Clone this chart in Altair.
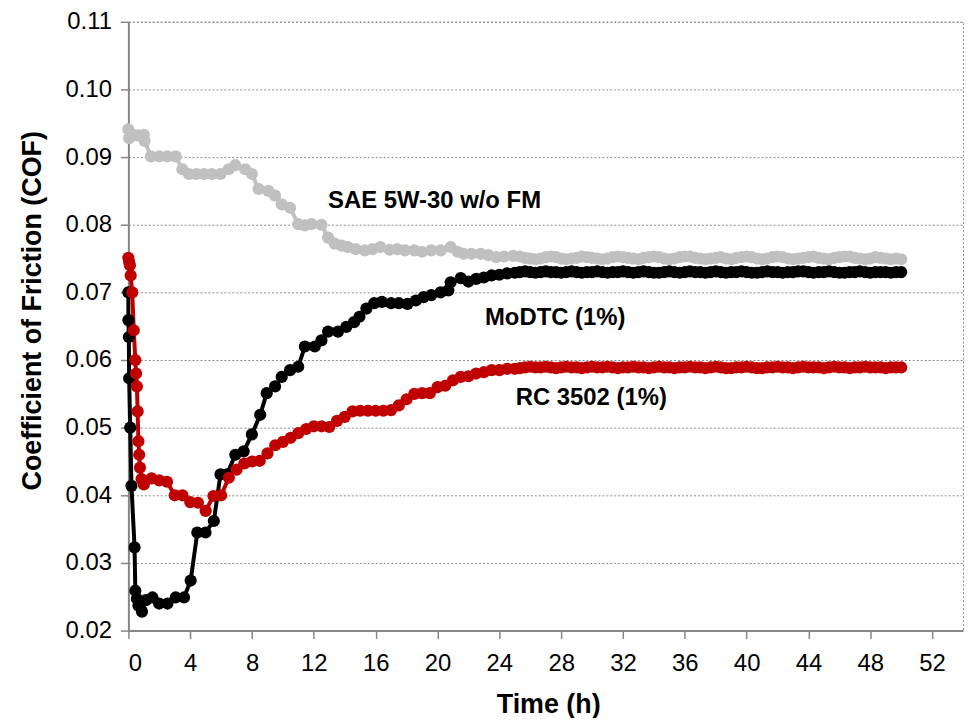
import altair as alt
import pandas as pd

series_names = ["SAE 5W-30 w/o FM", "MoDTC (1%)", "RC 3502 (1%)"]
series_colors = ["#C0C0C0", "#000000", "#C00000"]

tail_t = [25.33, 25.67, 26.0, 26.33, 26.67, 27.0, 27.33, 27.67, 28.0, 28.33, 28.67, 29.0, 29.33, 29.67, 30.0,
          30.33, 30.67, 31.0, 31.33, 31.67, 32.0, 32.33, 32.67, 33.0, 33.33, 33.67, 34.0, 34.33, 34.67, 35.0,
          35.33, 35.67, 36.0, 36.33, 36.67, 37.0, 37.33, 37.67, 38.0, 38.33, 38.67, 39.0, 39.33, 39.67, 40.0,
          40.33, 40.67, 41.0, 41.33, 41.67, 42.0, 42.33, 42.67, 43.0, 43.33, 43.67, 44.0, 44.33, 44.67, 45.0,
          45.33, 45.67, 46.0, 46.33, 46.67, 47.0, 47.33, 47.67, 48.0, 48.33, 48.67, 49.0, 49.33, 49.67, 50.0]

sae_t = [0.0, 0.05, 0.3, 0.6, 1.0, 1.05, 1.46, 2.0, 2.53, 3.06, 3.49, 3.92, 4.4, 4.9, 5.4,
         5.96, 6.49, 6.92, 7.56, 7.99, 8.42, 9.06, 9.49, 9.92, 10.46, 10.99, 11.42, 11.85,
         12.49, 12.92, 13.35, 13.8, 14.2, 14.7, 15.3, 15.8, 16.3, 16.9, 17.4, 17.9, 18.5,
         19.0, 19.6, 20.2, 20.85, 21.3, 21.7, 22.2, 22.8, 23.3, 23.8, 24.3, 24.9] + tail_t
sae_cof = [0.0941, 0.0928, 0.0933, 0.0932, 0.0933, 0.0924, 0.0901, 0.0901, 0.0901, 0.0901,
           0.0882, 0.0875, 0.0875, 0.0875, 0.0875, 0.0875, 0.0882, 0.0888, 0.0882, 0.0875,
           0.0853, 0.0850, 0.0843, 0.0830, 0.0825, 0.0801, 0.0799, 0.0801, 0.0800, 0.0781,
           0.0772, 0.0769, 0.0767, 0.0764, 0.0762, 0.0764, 0.0767, 0.0763, 0.0764, 0.0762,
           0.0762, 0.0760, 0.0762, 0.0762, 0.0767, 0.0760, 0.0757, 0.0757, 0.0757, 0.0755,
           0.0752, 0.0753, 0.0754,
           0.0753, 0.0751, 0.0750, 0.0749, 0.0750, 0.0752, 0.0753, 0.0752, 0.0750, 0.0749, 0.0750, 0.0751, 0.0753, 0.0752, 0.0751,
           0.0750, 0.0749, 0.0750, 0.0752, 0.0753, 0.0752, 0.0751, 0.0750, 0.0749, 0.0751, 0.0752, 0.0753, 0.0752, 0.0750, 0.0749,
           0.0750, 0.0752, 0.0753, 0.0753, 0.0751, 0.0750, 0.0749, 0.0750, 0.0751, 0.0752, 0.0750, 0.0749, 0.0751, 0.0752, 0.0753,
           0.0752, 0.0750, 0.0749, 0.0750, 0.0752, 0.0753, 0.0752, 0.0750, 0.0749, 0.0750, 0.0751, 0.0752, 0.0753, 0.0751, 0.0750,
           0.0749, 0.0751, 0.0752, 0.0753, 0.0753, 0.0751, 0.0750, 0.0749, 0.0750, 0.0752, 0.0751, 0.0750, 0.0749, 0.0750, 0.0749]

modtc_t = [0.0, 0.0, 0.03, 0.05, 0.12, 0.2, 0.4, 0.45, 0.55, 0.65, 0.88, 1.14, 1.56, 1.99,
           2.53, 3.06, 3.6, 4.03, 4.46, 4.99, 5.53, 5.96, 6.38, 6.92, 7.46, 7.99, 8.53, 8.95,
           9.49, 9.92, 10.46, 10.99, 11.42, 12.06, 12.49, 12.92, 13.56, 14.1, 14.6, 14.95,
           15.4, 15.9, 16.4, 17.0, 17.5, 18.06, 18.6, 19.1, 19.6, 20.2, 20.7, 20.85, 21.5,
           22.0, 22.5, 23.0, 23.5, 24.0, 24.5, 25.0] + tail_t
modtc_cof = [0.0700, 0.0659, 0.0634, 0.0573, 0.0500, 0.0414, 0.0323, 0.0259, 0.0247, 0.0237,
             0.0228, 0.0245, 0.0249, 0.0240, 0.0240, 0.0249, 0.0249, 0.0274, 0.0345, 0.0345,
             0.0362, 0.0431, 0.0431, 0.0460, 0.0465, 0.0490, 0.0519, 0.0551, 0.0561, 0.0575,
             0.0585, 0.0590, 0.0620, 0.0620, 0.0629, 0.0642, 0.0642, 0.0649, 0.0656, 0.0664,
             0.0676, 0.0684, 0.0686, 0.0684, 0.0684, 0.0683, 0.0688, 0.0693, 0.0696, 0.0700,
             0.0703, 0.0715, 0.0721, 0.0716, 0.0720, 0.0722, 0.0725, 0.0726, 0.0728, 0.0729,
             0.0730, 0.0731, 0.0730, 0.0729, 0.0730, 0.0731, 0.0730, 0.0730, 0.0729, 0.0730, 0.0731, 0.0730, 0.0729, 0.0730, 0.0730,
             0.0731, 0.0730, 0.0729, 0.0730, 0.0730, 0.0731, 0.0730, 0.0729, 0.0730, 0.0731, 0.0730, 0.0729, 0.0729, 0.0730, 0.0731,
             0.0730, 0.0729, 0.0730, 0.0731, 0.0730, 0.0730, 0.0729, 0.0730, 0.0731, 0.0730, 0.0729, 0.0730, 0.0730, 0.0731, 0.0730,
             0.0729, 0.0729, 0.0730, 0.0731, 0.0730, 0.0730, 0.0729, 0.0730, 0.0730, 0.0731, 0.0731, 0.0730, 0.0729, 0.0730, 0.0730,
             0.0731, 0.0730, 0.0729, 0.0729, 0.0730, 0.0730, 0.0731, 0.0730, 0.0729, 0.0730, 0.0730, 0.0730, 0.0729, 0.0730, 0.0730]

rc_t = [0.0, 0.05, 0.1, 0.15, 0.25, 0.35, 0.45, 0.5, 0.55, 0.6, 0.65, 0.7, 0.75, 0.85, 1.0,
        1.5, 2.0, 2.5, 3.0, 3.5, 4.0, 4.5, 5.0, 5.5, 6.0, 6.5, 7.0, 7.5, 8.0, 8.5, 9.0, 9.5,
        10.0, 10.5, 11.0, 11.5, 12.0, 12.5, 13.0, 13.5, 14.0, 14.5, 15.0, 15.5, 16.0, 16.5,
        17.0, 17.5, 18.0, 18.5, 19.0, 19.5, 20.0, 20.5, 21.0, 21.5, 22.0, 22.5, 23.0, 23.5,
        24.0, 24.5, 25.0] + tail_t
rc_cof = [0.0751, 0.0745, 0.0740, 0.0725, 0.0700, 0.0644, 0.0600, 0.0580, 0.0561, 0.0524,
          0.0480, 0.0460, 0.0441, 0.0424, 0.0416, 0.0425, 0.0422, 0.0420, 0.0400, 0.0400,
          0.0390, 0.0389, 0.0377, 0.0399, 0.0400, 0.0426, 0.0438, 0.0447, 0.0450, 0.0451,
          0.0462, 0.0474, 0.0479, 0.0485, 0.0492, 0.0498, 0.0502, 0.0502, 0.0501, 0.0510,
          0.0516, 0.0524, 0.0525, 0.0525, 0.0525, 0.0525, 0.0526, 0.0533, 0.0542, 0.0550,
          0.0551, 0.0551, 0.0560, 0.0562, 0.0570, 0.0575, 0.0576, 0.0580, 0.0582, 0.0585,
          0.0585, 0.0587, 0.0587,
          0.0588, 0.0589, 0.0590, 0.0589, 0.0589, 0.0590, 0.0589, 0.0588, 0.0589, 0.0590, 0.0589, 0.0589, 0.0588, 0.0589, 0.0590,
          0.0589, 0.0589, 0.0590, 0.0589, 0.0588, 0.0589, 0.0589, 0.0590, 0.0589, 0.0589, 0.0588, 0.0589, 0.0590, 0.0589, 0.0589,
          0.0588, 0.0589, 0.0589, 0.0590, 0.0589, 0.0589, 0.0588, 0.0589, 0.0590, 0.0589, 0.0588, 0.0588, 0.0589, 0.0589, 0.0590,
          0.0589, 0.0588, 0.0588, 0.0589, 0.0589, 0.0590, 0.0589, 0.0589, 0.0588, 0.0589, 0.0590, 0.0589, 0.0589, 0.0589, 0.0588,
          0.0589, 0.0590, 0.0589, 0.0589, 0.0588, 0.0589, 0.0589, 0.0590, 0.0589, 0.0589, 0.0589, 0.0588, 0.0589, 0.0589, 0.0589]

label_text = ["SAE 5W-30 w/o FM", "MoDTC (1%)", "RC 3502 (1%)"]
label_t = [12.92, 23.07, 25.06]
label_cof = [0.0835, 0.0662, 0.0544]

x_ticks = [0, 4, 8, 12, 16, 20, 24, 28, 32, 36, 40, 44, 48, 52]
y_ticks = [0.02, 0.03, 0.04, 0.05, 0.06, 0.07, 0.08, 0.09, 0.10, 0.11]

rows = []
idx = 0
for name, ts, vs in [(series_names[0], sae_t, sae_cof),
                     (series_names[1], modtc_t, modtc_cof),
                     (series_names[2], rc_t, rc_cof)]:
    for t, v in zip(ts, vs):
        rows.append({"series": name, "t": t, "cof": v, "idx": idx})
        idx += 1
df = pd.DataFrame(rows)
lab_df = pd.DataFrame({"label": label_text, "t": label_t, "cof": label_cof})

FONT = "Liberation Sans"

x_enc = alt.X("t:Q",
              scale=alt.Scale(domain=[0, 54], nice=False, zero=False),
              axis=alt.Axis(values=x_ticks, title="Time (h)", grid=False,
                            labelFontSize=24, labelPadding=13, titleFontSize=27,
                            titleX=422, titleY=82, titleBaseline="alphabetic",
                            titleAlign="center"))
y_enc = alt.Y("cof:Q",
              scale=alt.Scale(domain=[0.02, 0.11], nice=False, zero=False),
              axis=alt.Axis(values=y_ticks, format=".2f", title="Coefficient of Friction (COF)",
                            grid=True, gridColor="#8a8a8a", gridDash=[2, 2], gridWidth=1,
                            labelFontSize=24, labelPadding=9, titleFontSize=27,
                            titleAngle=270, titleX=-96, titleY=290, titleAlign="center",
                            titleBaseline="middle"))
color_enc = alt.Color("series:N", scale=alt.Scale(domain=series_names, range=series_colors),
                      legend=None)

base = alt.Chart(df).encode(x=x_enc, y=y_enc, color=color_enc, order=alt.Order("idx:Q"))
lines = base.mark_line(strokeWidth=4)
points = base.mark_circle(size=150, opacity=1)

labels = alt.Chart(lab_df).mark_text(
    align="left", baseline="middle", font=FONT, fontSize=24, fontWeight="bold", color="black"
).encode(x=x_enc, y=y_enc, text="label:N")

chart = alt.layer(lines, points, labels).properties(
    width=839, height=612,
    autosize=alt.AutoSizeParams(type="none"),
    padding={"left": 121, "top": 12, "right": 4, "bottom": 86},
).configure_view(
    stroke="#8a8a8a", strokeDash=[2, 2], strokeWidth=1
).configure_axis(
    labelFont=FONT, titleFont=FONT, labelColor="black", titleColor="black",
    titleFontWeight="bold", domainColor="#868686", domainWidth=2,
    tickColor="#868686", tickSize=8, tickWidth=1.5
)

chart.save("out.html", embed_options={"renderer": "svg", "actions": False})
